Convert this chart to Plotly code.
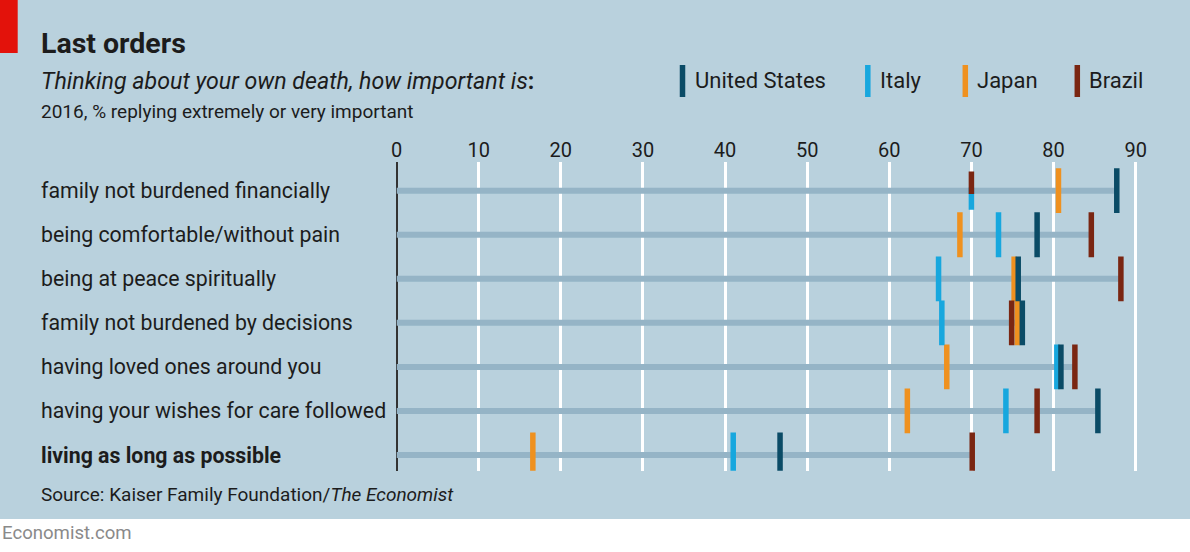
import plotly.graph_objects as go

# ---------------- data ----------------
categories = [
    "family not burdened financially",
    "being comfortable/without pain",
    "being at peace spiritually",
    "family not burdened by decisions",
    "having loved ones around you",
    "having your wishes for care followed",
    "living as long as possible",
]
countries = ["United States", "Italy", "Japan", "Brazil"]
united_states = [87.7, 78.0, 75.7, 76.2, 80.9, 85.4, 46.7]
italy = [70.0, 73.3, 66.0, 66.4, 80.4, 74.2, 41.0]
japan = [80.6, 68.6, 75.2, 75.6, 67.0, 62.2, 16.6]
brazil = [70.0, 84.6, 88.2, 74.9, 82.6, 78.0, 70.1]
tick_values = [0, 10, 20, 30, 40, 50, 60, 70, 80, 90]
tick_labels = ["0", "10", "20", "30", "40", "50", "60", "70", "80", "90"]

series = {"United States": united_states, "Italy": italy, "Japan": japan, "Brazil": brazil}
colors = {"United States": "#0a4b66", "Italy": "#17a7de", "Japan": "#ef911f", "Brazil": "#7a2612"}
draw_order = ["Japan", "Italy", "Brazil", "United States"]

BG = "#b9d1dd"
ROWLINE = "#95b4c6"
TXT = "#1c1c1c"
FONT = "Roboto"

W, H = 1190, 552
def px(x):
    return x / W
def py(y):
    return 1 - y / H

fig = go.Figure()

# row lines from 0 to the row maximum
lx, ly = [], []
for i in range(len(categories)):
    m = max(series[c][i] for c in countries)
    lx += [0, m, None]
    ly += [i, i, None]
fig.add_trace(go.Scatter(x=lx, y=ly, mode="lines", line=dict(color=ROWLINE, width=6),
                         hoverinfo="skip", showlegend=False))

# detect ties -> split vertically
split = {}
for i in range(len(categories)):
    for a_idx, a in enumerate(draw_order):
        for b in draw_order[a_idx + 1:]:
            if abs(series[a][i] - series[b][i]) < 0.3:
                split[(b, i)] = -1  # top half
                split[(a, i)] = 1   # bottom half

BAR_H = 32
for c in draw_order:
    fx, fy, hx, hy = [], [], [], []
    for i, v in enumerate(series[c]):
        if (c, i) in split:
            hx.append(v)
            hy.append(i + split[(c, i)] * 0.18)
        else:
            fx.append(v)
            fy.append(i)
    fig.add_trace(go.Scatter(x=fx, y=fy, mode="markers", name=c, showlegend=False,
                             marker=dict(symbol="line-ns", size=BAR_H,
                                         line=dict(color=colors[c], width=5.5))))
    if hx:
        fig.add_trace(go.Scatter(x=hx, y=hy, mode="markers", name=c, showlegend=False,
                                 marker=dict(symbol="line-ns", size=BAR_H / 2,
                                             line=dict(color=colors[c], width=5.5))))

# ---------------- axes ----------------
x0_px, per_unit = 396.5, 8.213
xmax = 95
fig.update_xaxes(
    domain=[px(x0_px), px(x0_px + xmax * per_unit)],
    range=[0, xmax], side="top",
    tickvals=tick_values, ticktext=tick_labels,
    tickfont=dict(family=FONT, size=20, color=TXT),
    showgrid=True, gridcolor="white", gridwidth=2.5,
    zeroline=True, zerolinecolor="#333333", zerolinewidth=1.5,
    showline=False, ticks="", fixedrange=True, automargin=False,
)
row_top, spacing = 190.7, 44.05
top_px, bot_px = 161.7, 470.7
fig.update_yaxes(
    domain=[py(bot_px), py(top_px)],
    range=[(bot_px - row_top) / spacing, (top_px - row_top) / spacing],
    showgrid=False, zeroline=False, showticklabels=False, showline=False,
    fixedrange=True, automargin=False,
)

# ---------------- shapes ----------------
shapes = [
    dict(type="rect", xref="paper", yref="paper", x0=0, x1=1, y0=0, y1=py(519),
         fillcolor="white", line=dict(width=0), layer="below"),
    dict(type="rect", xref="paper", yref="paper", x0=0, x1=px(17.7), y0=py(53), y1=1,
         fillcolor="#e3120b", line=dict(width=0), layer="below"),
]
legend_x = [682.5, 867.8, 965.3, 1077.3]
legend_tx = [692.5, 877.5, 975.0, 1087.0]
for c, lxp in zip(countries, legend_x):
    shapes.append(dict(type="line", xref="paper", yref="paper", x0=px(lxp), x1=px(lxp),
                       y0=py(65), y1=py(97), line=dict(color=colors[c], width=5.5)))

# ---------------- annotations ----------------
ann = []
def text(x, y, s, size, color=TXT, **kw):
    ann.append(dict(x=px(x), y=py(y), xref="paper", yref="paper", text=s, showarrow=False,
                    xanchor="left", yanchor="middle", font=dict(family=FONT, size=size, color=color), **kw))

text(39, 43, "<b>Last orders</b>", 28.5)
text(39, 81, "<i>Thinking about your own death, how important is</i><b>:</b>", 23.2)
text(39, 111, "2016, % replying extremely or very important", 19)
text(39, 494, "Source: Kaiser Family Foundation/<i>The Economist</i>", 19)
text(0, 533, "Economist.com", 18.6, color="#8a8a8a")
for c, tx in zip(countries, legend_tx):
    text(tx, 81, c, 22)

for i, cat in enumerate(categories):
    label = f"<b>{cat}</b>" if i == len(categories) - 1 else cat
    ann.append(dict(x=px(39), y=i, xref="paper", yref="y", text=label, showarrow=False,
                    xanchor="left", yanchor="middle", font=dict(family=FONT, size=21.3, color=TXT)))

fig.update_layout(
    width=W, height=H, autosize=False,
    margin=dict(l=0, r=0, t=0, b=0, pad=0, autoexpand=False),
    paper_bgcolor=BG, plot_bgcolor="rgba(0,0,0,0)",
    showlegend=False, shapes=shapes, annotations=ann,
    font=dict(family=FONT, color=TXT),
    hovermode=False,
)

fig.write_html("out.html", config={"displayModeBar": False})
